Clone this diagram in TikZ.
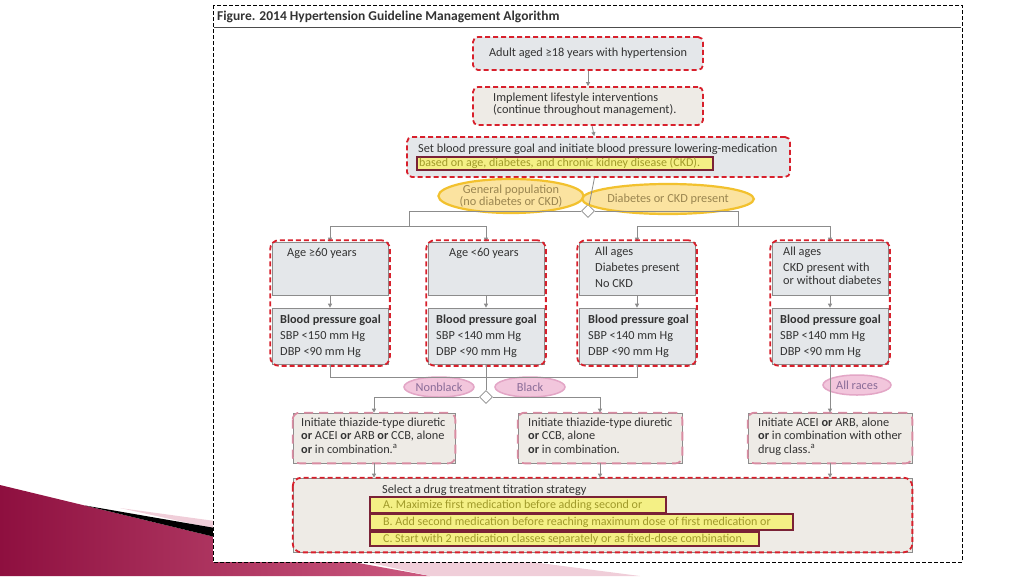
\documentclass[tikz,border=0pt]{standalone}
\usepackage{fontspec}
\setmainfont{Carlito}
\usetikzlibrary{positioning,shapes.geometric,arrows.meta,fit}
\definecolor{boxblue}{HTML}{E4E7EA}
\definecolor{boxbeige}{HTML}{EEEBE6}
\definecolor{linegray}{HTML}{8C8C8C}
\definecolor{dashred}{HTML}{D8202C}
\definecolor{dashpink}{HTML}{D98CA2}
\definecolor{ovalyellow}{HTML}{FBE3A0}
\definecolor{ovalgold}{HTML}{F2C12E}
\definecolor{ovaltext}{HTML}{9A8550}
\definecolor{ovalpink}{HTML}{F2C6DC}
\definecolor{ovalrose}{HTML}{E3A6C6}
\definecolor{pinktext}{HTML}{8A6C98}
\definecolor{hiyellow}{HTML}{F4F085}
\definecolor{himaroon}{HTML}{7A2236}
\definecolor{hitext}{HTML}{A09A2A}
\definecolor{txtgray}{HTML}{333333}
\definecolor{slidemaroon}{HTML}{8E0F3F}
\definecolor{slidepink}{HTML}{CC5A80}
\tikzset{
  topbox/.style={draw=dashred, fill=boxblue, line width=1.8pt, dash pattern=on 5pt off 3pt,
    rounded corners=5pt, inner sep=0pt},
  graybox/.style={draw=linegray, line width=0.7pt, fill=boxblue, minimum width=116, inner sep=0pt},
  drugbox/.style={draw=linegray, line width=0.7pt, fill=boxbeige, minimum height=50, inner sep=0pt},
  reddash/.style={draw=dashred, line width=1.8pt, dash pattern=on 5pt off 3pt, rounded corners=9pt},
  pinkdash/.style={draw=dashpink, line width=1.8pt, dash pattern=on 9pt off 6pt, rounded corners=7pt},
  boxtxt/.style={anchor=north west, align=left, inner sep=0pt},
  ovalyel/.style={ellipse, draw=ovalgold, line width=2.2pt, fill=ovalyellow, text=ovaltext,
    inner sep=0pt, align=center, font=\fontsize{12.3}{12}\selectfont},
  ovalpnk/.style={ellipse, draw=ovalrose, line width=1.5pt, fill=ovalpink, text=pinktext,
    inner sep=0pt, minimum width=70, minimum height=20},
  split/.style={diamond, draw=linegray, line width=0.8pt, fill=white, inner sep=0pt,
    minimum width=13, minimum height=13},
  hilite/.style={fill=hiyellow, draw=himaroon, line width=2.2pt, text=hitext, inner ysep=0pt,
    anchor=west, font=\fontsize{12}{12}\selectfont},
  flow/.style={draw=linegray, line width=0.8pt, -{Triangle[length=4pt,width=4pt]}},
  link/.style={draw=linegray, line width=0.8pt}
}
\begin{document}
\begin{tikzpicture}[x=1pt,y=-1pt, font=\fontsize{12.3}{16}\selectfont, text=txtgray]
\useasboundingbox (0,0) rectangle (1024,576);
% adorno de la diapositiva
\shade[left color=slidemaroon, right color=slidepink] (0,485) -- (215,537) -- (430,576) -- (0,576) -- cycle;
\fill[slidepink!30] (120,508) -- (215,521) -- (640,576) -- (430,576) -- cycle;
\fill[black] (85,505.5) -- (215,528) -- (215,537) -- cycle;
% marco
\draw[black, line width=1pt, dash pattern=on 4pt off 2pt, fill=white] (213,5) rectangle (962,562);
\node[anchor=west, inner sep=0pt, font=\bfseries\fontsize{13.5}{14}\selectfont] (title) at (217,17)
  {Figure. 2014 Hypertension Guideline Management Algorithm};
\draw[black!70, line width=1pt] (214,27) -- (961,27);
% cajas de arriba
\node[topbox, minimum width=230, minimum height=33] (adult) at (588,53.5) {Adult aged ≥18 years with hypertension};
\node[topbox, fill=boxbeige, minimum width=230, minimum height=38] (life) at (588,106) {};
\node[boxtxt, font=\fontsize{12.3}{12}\selectfont] (lifetxt) at (493,93)
  {Implement lifestyle interventions\\(continue throughout management).};
\node[topbox, minimum width=383, minimum height=40] (goal) at (598.5,157) {};
\node[anchor=west, inner sep=0pt] (goaltxt) at (418,149.5)
  {Set blood pressure goal and initiate blood pressure lowering-medication};
\node[hilite, inner xsep=2pt, minimum height=13] (goalhi) at (416,163.5)
  {\makebox[292pt][l]{based on age, diabetes, and chronic kidney disease (CKD).}};
\draw[flow] (adult) -- (life);
\draw[flow] (life) -- (goal);
% primera division
\node[split] (popsplit) at (588,211) {};
\node[ovalyel, minimum width=128, minimum height=34] (general) at (511,196) {General population\\(no diabetes or CKD)};
\node[ovalyel, minimum width=142, minimum height=30] (diabckd) at (668,199) {Diabetes or CKD present};
\draw[link] (goal) -- (popsplit);
\coordinate (leftfork) at (409,226);
\coordinate (rightfork) at (738,226);
\draw[link] (popsplit.west) -| (leftfork);
\draw[link] (popsplit.east) -| (rightfork);
% cuatro columnas
\node[graybox, minimum height=53] (older) at (330,268.5) {};
\node[graybox, minimum height=53] (younger) at (486,268.5) {};
\node[graybox, minimum height=53] (diab) at (637,268.5) {};
\node[graybox, minimum height=53] (ckd) at (830,268.5) {};
\node[graybox, minimum height=56] (olderbp) at (330,336) {};
\node[graybox, minimum height=56] (youngerbp) at (486,336) {};
\node[graybox, minimum height=56] (diabbp) at (637,336) {};
\node[graybox, minimum height=56] (ckdbp) at (830,336) {};
\node[anchor=west, inner sep=0pt] (oldertxt) at (287,253) {Age ≥60 years};
\node[anchor=west, inner sep=0pt] (youngertxt) at (449,253) {Age <60 years};
\node[boxtxt] (diabtxt) at (595,247) {All ages\\Diabetes present\\No CKD};
\node[boxtxt] (ckdtxt) at (783,247) {All ages\\CKD present with\\[-3pt]or without diabetes};
\node[boxtxt] (olderbptxt) at (280,314.5) {\textbf{Blood pressure goal}\\SBP <150 mm Hg\\DBP <90 mm Hg};
\node[boxtxt] (youngerbptxt) at (436,314.5) {\textbf{Blood pressure goal}\\SBP <140 mm Hg\\DBP <90 mm Hg};
\node[boxtxt] (diabbptxt) at (588,314.5) {\textbf{Blood pressure goal}\\SBP <140 mm Hg\\DBP <90 mm Hg};
\node[boxtxt] (ckdbptxt) at (780,314.5) {\textbf{Blood pressure goal}\\SBP <140 mm Hg\\DBP <90 mm Hg};
\draw[flow] (leftfork) -| (older.north);
\draw[flow] (leftfork) -| (younger.north);
\draw[flow] (rightfork) -| (diab.north);
\draw[flow] (rightfork) -| (ckd.north);
\foreach \t/\g in {older/olderbp, younger/youngerbp, diab/diabbp, ckd/ckdbp} {
  \draw[flow] (\t) -- (\g);
  \node[reddash, fit=(\t)(\g), inner sep=1.5pt] {};
}
% segunda division
\node[split] (racesplit) at (486,397) {};
\node[ovalpnk] (nonblack) at (439,387) {Nonblack};
\node[ovalpnk] (black) at (530,387) {Black};
\node[ovalpnk, minimum width=68] (allraces) at (857,385) {All races};
\coordinate (midjoin) at (486,377);
\draw[link] (olderbp.south) |- (midjoin);
\draw[link] (diabbp.south) |- (midjoin);
\draw[link] (youngerbp) -- (racesplit);
% cajas de farmacos
\node[drugbox, minimum width=162] (drugnb) at (374,438) {};
\node[drugbox, minimum width=164] (drugb) at (600,438) {};
\node[drugbox, minimum width=164] (drugckd) at (830,438) {};
\foreach \d in {drugnb, drugb, drugckd}
  \draw[pinkdash] (\d.north west) rectangle (\d.south east);
\node[boxtxt, font=\fontsize{12.3}{13.5}\selectfont] (drugnbtxt) at (301,417.5)
  {Initiate thiazide-type diuretic\\\textbf{or} ACEI \textbf{or} ARB \textbf{or} CCB, alone\\\textbf{or} in combination.\textsuperscript{a}};
\node[boxtxt, font=\fontsize{12.3}{13.5}\selectfont] (drugbtxt) at (528,417.5)
  {Initiate thiazide-type diuretic\\\textbf{or} CCB, alone\\\textbf{or} in combination.};
\node[boxtxt, font=\fontsize{12.3}{13.5}\selectfont] (drugckdtxt) at (758,417.5)
  {Initiate ACEI \textbf{or} ARB, alone\\\textbf{or} in combination with other\\drug class.\textsuperscript{a}};
\draw[flow] (racesplit.west) -| (drugnb.north);
\draw[flow] (racesplit.east) -| (drugb.north);
\draw[flow] (ckdbp) -- (drugckd);
% estrategia final
\node[draw=linegray, line width=0.7pt, fill=boxbeige, minimum width=619, minimum height=74, inner sep=0pt] (titrate) at (602.5,515) {};
\draw[reddash] (titrate.north west) rectangle (titrate.south east);
\node[anchor=west, inner sep=0pt] (titratetxt) at (382,490) {Select a drug treatment titration strategy};
\node[hilite, inner xsep=13pt, minimum height=16] (optA) at (369,505)
  {\makebox[270pt][l]{A. Maximize first medication before adding second or}};
\node[hilite, inner xsep=13pt, minimum height=16] (optB) at (369,522)
  {\makebox[397pt][l]{B. Add second medication before reaching maximum dose of first medication or}};
\node[hilite, inner xsep=13pt, minimum height=14] (optC) at (369,539)
  {\makebox[363pt][l]{C. Start with 2 medication classes separately or as fixed-dose combination.}};
\foreach \d in {drugnb, drugb, drugckd}
  \draw[flow] (\d.south) -- (\d.south |- titrate.north);
\end{tikzpicture}
\end{document}
